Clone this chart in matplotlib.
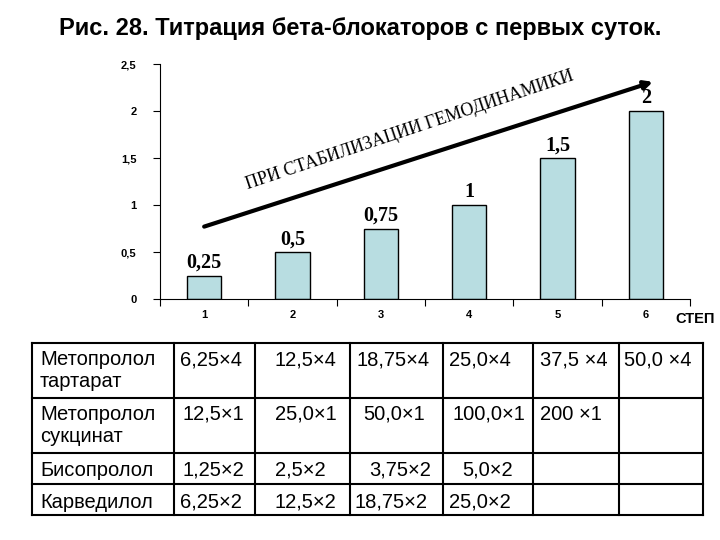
import matplotlib.pyplot as plt
import numpy as np

# chart data
steps = [1, 2, 3, 4, 5, 6]
doses = [0.25, 0.5, 0.75, 1, 1.5, 2]
dose_labels = ['0,25', '0,5', '0,75', '1', '1,5', '2']
y_ticks = [0, 0.5, 1, 1.5, 2, 2.5]
y_tick_labels = ['0', '0,5', '1', '1,5', '2', '2,5']
trend_start = (1, 0.77)
trend_end = (6.08, 2.31)
trend_text = 'ПРИ СТАБИЛИЗАЦИИ ГЕМОДИНАМИКИ'

# table data
drugs = ['Метопролол\nтартарат', 'Метопролол\nсукцинат', 'Бисопролол', 'Карведилол']
table_cells = [
    ['6,25×4', '12,5×4', '18,75×4', '25,0×4', '37,5 ×4', '50,0 ×4'],
    ['12,5×1', '25,0×1', '50,0×1', '100,0×1', '200 ×1', ''],
    ['1,25×2', '2,5×2', '3,75×2', '5,0×2', '', ''],
    ['6,25×2', '12,5×2', '18,75×2', '25,0×2', '', ''],
]

plt.rcParams['font.family'] = ['Liberation Sans', 'DejaVu Sans']

fig = plt.figure(figsize=(7.2, 5.4), dpi=100)
fig.text(0.5, 0.948, 'Рис. 28. Титрация бета-блокаторов с первых суток.',
         ha='center', va='center', fontsize=17, fontweight='bold')

ax = fig.add_axes([160 / 720, 1 - 299 / 540, 530 / 720, 235 / 540])
ax.bar(steps, doses, width=0.385, color='#b8dde1', edgecolor='black', linewidth=1)
for x, v, lab in zip(steps, doses, dose_labels):
    ax.text(x, v + 0.03, lab, ha='center', va='bottom', fontsize=14.5,
            fontweight='bold', family='Liberation Serif')

ax.set_xlim(0.5, 6.5)
ax.set_ylim(0, 2.5)
ax.spines['top'].set_visible(False)
ax.spines['right'].set_visible(False)
ax.set_yticks(y_ticks)
ax.set_yticklabels(y_tick_labels, fontsize=8, fontweight='bold')
ax.set_xticks(np.arange(0.5, 7, 1))
ax.set_xticklabels([])
ax.set_xticks(steps, minor=True)
ax.set_xticklabels([str(s) for s in steps], minor=True, fontsize=8, fontweight='bold')
ax.tick_params(axis='x', which='minor', length=0, pad=8)
ax.tick_params(axis='both', which='major', direction='out', length=5)
ax.tick_params(axis='y', pad=12)
fig.text(675 / 720, 1 - 319 / 540, 'СТЕП', ha='left', va='center',
         fontsize=10.5, fontweight='bold')

ax.annotate('', xy=trend_end, xytext=trend_start,
            arrowprops=dict(arrowstyle='-|>', color='black', lw=3,
                            mutation_scale=12, shrinkA=0, shrinkB=0))
ax.text(3.33, 1.79, trend_text, ha='center', va='center', rotation=18.5,
        rotation_mode='anchor', fontsize=13, family='Liberation Serif')

# table drawn in pixel coordinates
tab = fig.add_axes([0, 0, 1, 1])
tab.set_xlim(0, 720)
tab.set_ylim(540, 0)
tab.axis('off')
col_edges = [32, 174, 255, 350, 443, 533, 619, 703]
row_edges = [343, 398, 453, 484, 515]
for xe in col_edges:
    tab.plot([xe, xe], [row_edges[0], row_edges[-1]], color='black', lw=1.5)
for ye in row_edges:
    tab.plot([col_edges[0], col_edges[-1]], [ye, ye], color='black', lw=1.5)

text_x = [
    [180, 275, 357, 449, 540, 624],
    [182, 275, 363, 453, 540, 624],
    [182, 275, 369, 462, 540, 624],
    [180, 275, 355, 449, 540, 624],
]
text_y = [350, 405, 461, 493]
for r, name in enumerate(drugs):
    tab.text(40, text_y[r], name, ha='left', va='top', fontsize=14.5, linespacing=1.2)
    for c, val in enumerate(table_cells[r]):
        tab.text(text_x[r][c], text_y[r], val, ha='left', va='top', fontsize=14.5)

fig.savefig('out.png', dpi=100)
